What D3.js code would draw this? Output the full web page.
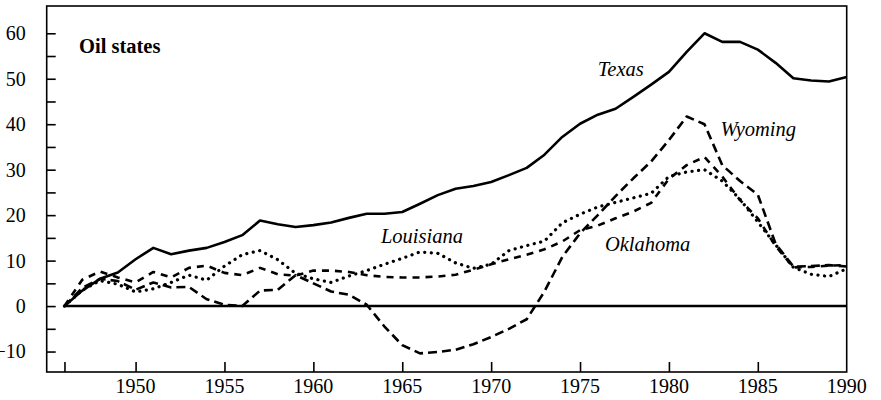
<!DOCTYPE html>
<html>
<head>
<meta charset="utf-8">
<script src="https://cdn.jsdelivr.net/npm/d3@7"></script>
<style>
	body { margin: 0; background: #fff; }
	svg { display: block; font-family: 'Liberation Serif', 'DejaVu Serif', serif; }
</style>
</head>
<body>
<svg width="881" height="400"></svg>
<script>

const years = d3.range( 1946, 1991 ),

	texas = [ 0, 3.4, 6.0, 7.4, 10.3, 12.8, 11.4, 12.2, 12.8, 14.1, 15.6, 18.8, 18.0, 17.4, 17.8,
		18.4, 19.4, 20.3, 20.3, 20.7, 22.5, 24.4, 25.8, 26.4, 27.3, 28.8, 30.4, 33.3, 37.2, 40.1,
		42.1, 43.4, 46.0, 48.7, 51.5, 55.9, 60.0, 58.1, 58.1, 56.4, 53.5, 50.1, 49.6, 49.4, 50.4 ],

	wyoming = [ 0, 4.0, 6.0, 5.5, 3.6, 5.2, 4.1, 4.2, 1.5, 0.3, 0, 3.4, 3.6, 6.8, 5.0,
		3.2, 2.5, 0.3, -4.5, -8.6, -10.4, -10.1, -9.6, -8.4, -6.8, -5.0, -2.9, 3.2, 10.8, 16.0,
		20.0, 24.2, 28.1, 31.8, 36.5, 41.7, 40.0, 31.0, 27.5, 24.5, 13.7, 8.7, 8.8, 9.0, 8.7 ],

	oklahoma = [ 0, 5.8, 7.6, 6.3, 5.2, 7.5, 6.3, 8.4, 8.9, 7.3, 6.8, 8.4, 7.0, 6.7, 7.8,
		7.8, 7.5, 6.8, 6.4, 6.3, 6.3, 6.5, 6.9, 8.0, 9.2, 10.3, 11.3, 12.5, 14.2, 16.7,
		17.7, 19.3, 20.8, 22.7, 28.0, 31.0, 32.8, 28.5, 23.3, 19.3, 13.2, 8.5, 8.6, 8.9, 9.0 ],

	louisiana = [ 0, 3.5, 5.6, 4.8, 3.1, 3.8, 5.2, 6.8, 5.7, 8.8, 11.3, 12.2, 10.2, 7.2, 6.0,
		5.2, 6.6, 7.8, 9.2, 10.5, 11.9, 11.6, 9.5, 8.3, 9.2, 12.2, 13.3, 14.3, 18.3, 20.2,
		21.8, 22.8, 23.8, 24.8, 28.5, 29.5, 30.0, 27.5, 23.5, 18.5, 13.5, 8.5, 7.0, 6.5, 8.2 ],

	seriesNames = [ 'Texas', 'Wyoming', 'Louisiana', 'Oklahoma' ],
	seriesValues = [ texas, wyoming, louisiana, oklahoma ],

	xTicks = [ 1946, 1950, 1955, 1960, 1965, 1970, 1975, 1980, 1985 ],
	xTickLabels = [ 1950, 1955, 1960, 1965, 1970, 1975, 1980, 1985, 1990 ],
	yTicks = d3.range( -10, 61, 5 ),
	yTickLabels = d3.range( -10, 61, 10 )

const svg = d3.select( 'svg' ),

	x = d3.scaleLinear()
		.domain( [ 1945, 1990 ] )
		.range( [ 46.7, 846.7 ] ),

	y = d3.scaleLinear()
		.domain( [ -14.5, 66 ] )
		.range( [ 372, 6 ] ),

	line = d3.line()
		.x( d => x( d[ 0 ] ) )
		.y( d => y( d[ 1 ] ) ),

	// stroke look per state
	styles = {
		Texas: { dash: null, width: 2.6, cap: 'butt' },
		Wyoming: { dash: '9,5', width: 2.6, cap: 'butt' },
		Oklahoma: { dash: '7,6', width: 2.6, cap: 'butt' },
		Louisiana: { dash: '0.1,6.5', width: 3.2, cap: 'round' }
	},

	labels = [
		{ name: 'Texas', year: 1976, value: 50.5 },
		{ name: 'Wyoming', year: 1982.9, value: 37.4 },
		{ name: 'Louisiana', year: 1963.8, value: 13.8 },
		{ name: 'Oklahoma', year: 1976.4, value: 12.2 }
	]

// zero line
svg.append( 'line' )
	.attr( 'x1', x( 1946 ) )
	.attr( 'x2', x( 1990 ) )
	.attr( 'y1', y( 0 ) )
	.attr( 'y2', y( 0 ) )
	.attr( 'stroke', '#000' )
	.attr( 'stroke-width', 2.6 )

// the lines
seriesNames.forEach( ( name, i ) => {

	const pts = years.map( ( yr, j ) => [ yr, seriesValues[ i ][ j ] ] ),
		s = styles[ name ]

	svg.append( 'path' )
		.datum( pts )
		.attr( 'd', line )
		.attr( 'fill', 'none' )
		.attr( 'stroke', '#000' )
		.attr( 'stroke-width', s.width )
		.attr( 'stroke-linecap', s.cap )
		.attr( 'stroke-linejoin', 'round' )
		.attr( 'stroke-dasharray', s.dash )

})

// frame
svg.append( 'rect' )
	.attr( 'x', x( 1945 ) )
	.attr( 'y', y( 66 ) )
	.attr( 'width', x( 1990 ) - x( 1945 ) )
	.attr( 'height', y( -14.5 ) - y( 66 ) )
	.attr( 'fill', 'none' )
	.attr( 'stroke', '#000' )
	.attr( 'stroke-width', 1.6 )

// y axis, ticks point inward
const yAxis = d3.axisLeft( y )
	.tickValues( yTicks )
	.tickSize( -9 )
	.tickPadding( 21 )
	.tickFormat( d => yTickLabels.includes( d ) ? String( d ).replace( '-', '\u2212' ) : '' )

svg.append( 'g' )
	.attr( 'transform', `translate(${ x( 1945 ) },0)` )
	.call( yAxis )
	.call( g => g.select( '.domain' ).remove() )
	.call( g => g.selectAll( 'line' ).attr( 'stroke-width', 1.6 ) )
	.call( g => g.selectAll( 'text' )
		.attr( 'font-family', 'Liberation Serif, serif' )
		.attr( 'font-size', 20 )
		.attr( 'fill', '#000' ) )

// x axis
const xAxis = d3.axisBottom( x )
	.tickValues( xTicks )
	.tickSize( -10 )
	.tickFormat( '' )

svg.append( 'g' )
	.attr( 'transform', `translate(0,${ y( -14.5 ) })` )
	.call( xAxis )
	.call( g => g.select( '.domain' ).remove() )
	.call( g => g.selectAll( 'line' ).attr( 'stroke-width', 1.6 ) )

svg.append( 'g' )
	.selectAll( 'text' )
	.data( xTickLabels )
	.enter()
	.append( 'text' )
	.attr( 'x', d => x( d ) )
	.attr( 'y', 393 )
	.attr( 'text-anchor', 'middle' )
	.attr( 'font-size', 20 )
	.text( d => d )

// title and line labels
svg.append( 'text' )
	.attr( 'x', 79 )
	.attr( 'y', 53 )
	.attr( 'font-size', 20.5 )
	.attr( 'font-weight', 'bold' )
	.text( 'Oil states' )

svg.append( 'g' )
	.selectAll( 'text' )
	.data( labels )
	.enter()
	.append( 'text' )
	.attr( 'x', d => x( d.year ) )
	.attr( 'y', d => y( d.value ) )
	.attr( 'font-size', 20.5 )
	.attr( 'font-style', 'italic' )
	.text( d => d.name )

</script>
</body>
</html>
